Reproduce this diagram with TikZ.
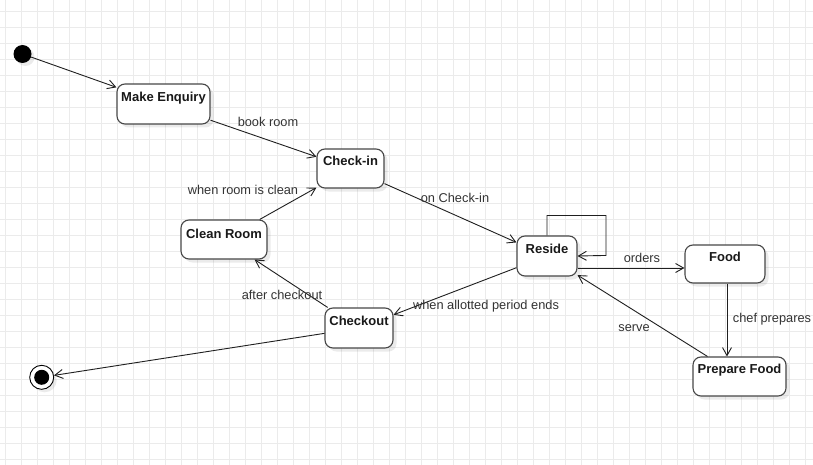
\documentclass[tikz,border=0pt]{standalone}
\usepackage{fontspec}
\setmainfont{Liberation Sans}
\usetikzlibrary{arrows.meta,shadows,calc}
\begin{document}
\begin{tikzpicture}[x=1pt,y=-1pt,
  statebox/.style={draw=black!72, line width=1.1pt, fill=white, rounded corners=8pt, inner sep=0pt,
    drop shadow={shadow xshift=3.5pt, shadow yshift=-3.5pt, fill=black, opacity=0.08}},
  title/.style={font=\fontsize{13}{15}\selectfont\bfseries, text=black!90, inner sep=0pt, anchor=base},
  lbl/.style={font=\fontsize{12.8}{15}\selectfont, text=black!80, inner sep=0pt, anchor=base},
  edge/.style={draw=black!88, line width=0.9pt, -{Straight Barb[length=8pt,width=9pt]}},
  gridline/.style={draw=black!8, line width=0.8pt}
]
\useasboundingbox (0,0) rectangle (813,465);
\fill[white] (0,0) rectangle (813,465);
\foreach \i in {0,...,50} \draw[gridline] ({5.7+16*\i},0) -- ({5.7+16*\i},465);
\foreach \j in {0,...,28} \draw[gridline] (0,{11.3+16*\j}) -- (813,{11.3+16*\j});

% initial and final states
\node[circle, fill=black, inner sep=0pt, minimum size=18pt,
  drop shadow={shadow xshift=3pt, shadow yshift=-3pt, fill=black, opacity=0.08}] (init) at (22.5,54) {};
\node[circle, draw=black, fill=white, line width=0.9pt, inner sep=0pt, minimum size=24pt,
  drop shadow={shadow xshift=3pt, shadow yshift=-3pt, fill=black, opacity=0.08}] (fin) at (41.7,377.3) {};
\node[circle, fill=black, inner sep=0pt, minimum size=15pt] (finin) at (fin.center) {};

% states
\node[statebox, minimum width=93pt, minimum height=40pt] (mk) at (163.5,104) {};
\node[statebox, minimum width=67pt, minimum height=39pt] (ck) at (350.5,168.5) {};
\node[statebox, minimum width=86pt, minimum height=39pt] (cr) at (224,239.5) {};
\node[statebox, minimum width=60pt, minimum height=40pt] (rs) at (547,256) {};
\node[statebox, minimum width=80pt, minimum height=38pt] (food) at (725,264) {};
\node[statebox, minimum width=93pt, minimum height=39pt] (pf) at (739.5,376.5) {};
\node[statebox, minimum width=68pt, minimum height=40pt] (co) at (359,328) {};

\node[title] (mkt) at (163.5,101.5) {Make Enquiry};
\node[title] (ckt) at (350.5,165.5) {Check-in};
\node[title] (crt) at (224,238) {Clean Room};
\node[title] (rst) at (547,253.5) {Reside};
\node[title] (foodt) at (725,261.5) {Food};
\node[title] (pft) at (739.5,373.5) {Prepare Food};
\node[title] (cot) at (359,325.5) {Checkout};

% transitions
\draw[edge] (init) -- (mk);
\draw[edge] (mk) -- (ck);
\draw[edge] (ck) -- (rs);
\draw[edge] (cr) -- (ck);
\draw[edge] (co) -- (cr);
\draw[edge] (rs) -- (co);
\draw[edge] (co) -- (fin);
\draw[edge] ([yshift=-12pt]rs.east) -- ([yshift=-12pt]rs.east -| food.west);
\draw[edge] ([xshift=2pt]food.south) -- ([xshift=2pt]food.south |- pf.north);
\draw[edge] (pf) -- (rs);
\draw[edge] (rs.north) -- ++(0,-20) -- ++(59,0) -- ++(0,40) -- (rs.east);

% labels
\node[lbl] (l1) at (268,127) {book room};
\node[lbl] (l2) at (455,202) {on Check-in};
\node[lbl] (l3) at (243,194) {when room is clean};
\node[lbl] (l4) at (282,299) {after checkout};
\node[lbl] (l5) at (486,309) {when allotted period ends};
\node[lbl] (l6) at (642,262) {orders};
\node[lbl] (l7) at (772,322) {chef prepares};
\node[lbl] (l8) at (634,331) {serve};
\end{tikzpicture}
\end{document}
